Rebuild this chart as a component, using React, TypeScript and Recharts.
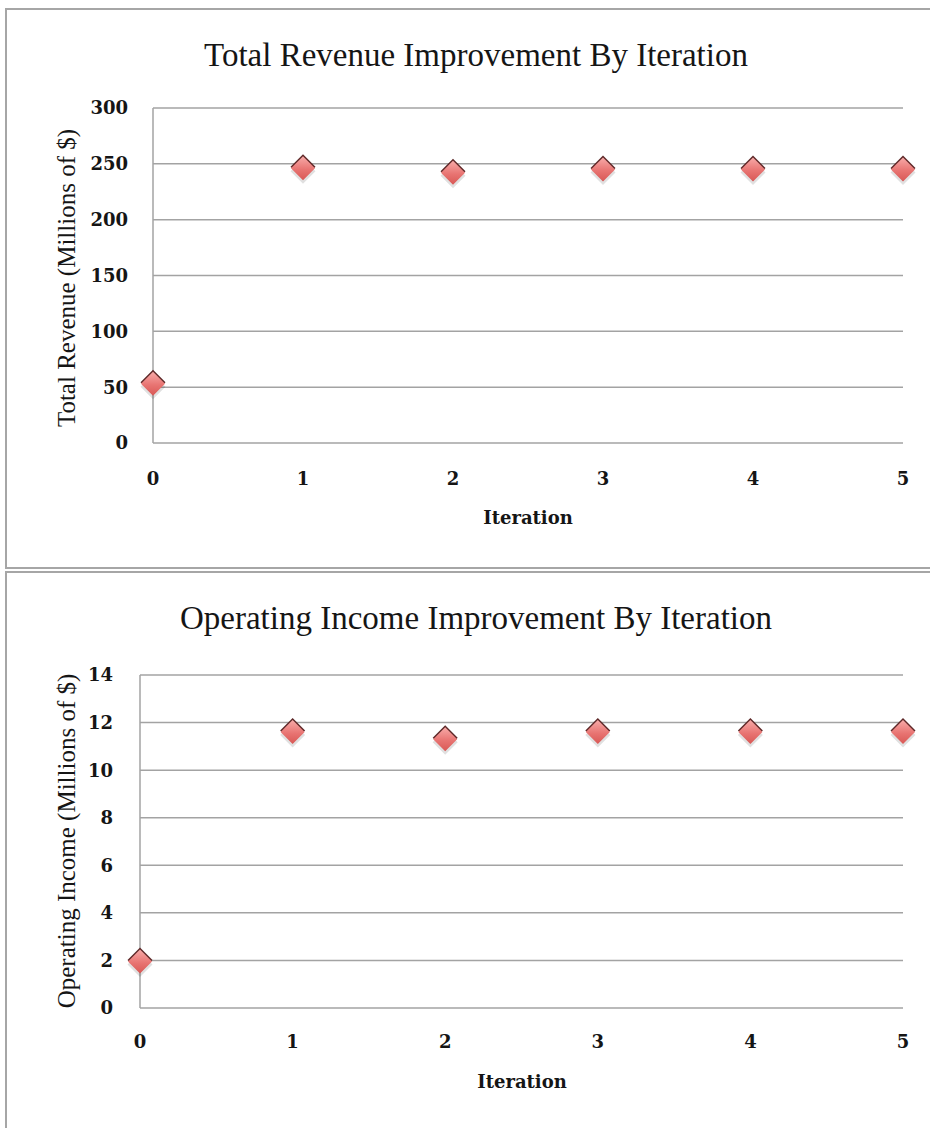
import React from 'react'
import { ScatterChart, Scatter, XAxis, YAxis, CartesianGrid } from 'recharts'

const iterations = [0, 1, 2, 3, 4, 5]
const revenue = [53, 246, 242, 245, 245, 245]
const operatingIncome = [1.95, 11.6, 11.3, 11.6, 11.6, 11.6]
const revenueTicks = [0, 50, 100, 150, 200, 250, 300]
const incomeTicks = [0, 2, 4, 6, 8, 10, 12, 14]

const GRID = '#a3a3a3'
const TEXT = '#151515'
const TICK_FONT = { fontSize: 18, fontWeight: 700, fontFamily: 'DejaVu Serif, serif', fill: TEXT }

const Diamond = (props: any) => {
  const { cx, cy, index } = props
  if (cx == null || cy == null) return null
  const r = 12.5
  const pts = (dx: number, dy: number, s: number) =>
    `${cx + dx},${cy + dy - s} ${cx + dx + s},${cy + dy} ${cx + dx},${cy + dy + s} ${cx + dx - s},${cy + dy}`
  const id = `dg-${cy.toFixed(0)}-${index}`
  return (
    <g>
      <defs>
        <linearGradient id={id} x1="0" y1="0" x2="0" y2="1">
          <stop offset="0%" stopColor="#f7aaa8" />
          <stop offset="55%" stopColor="#e87472" />
          <stop offset="100%" stopColor="#d95855" />
        </linearGradient>
      </defs>
      <polygon points={pts(0, 3, r)} fill="rgba(0,0,0,0.12)" />
      <polygon points={pts(0, -1.5, r)} fill="#5e2828" />
      <polygon points={pts(0, 0, r - 0.5)} fill={`url(#${id})`} />
    </g>
  )
}

const panelStyle: React.CSSProperties = {
  position: 'absolute',
  left: 5,
  width: 940,
  border: '2px solid #a6a6a6',
  boxSizing: 'border-box',
  background: '#fff',
}

const titleStyle: React.CSSProperties = {
  position: 'absolute',
  transform: 'translate(-50%, -50%)',
  whiteSpace: 'nowrap',
  fontFamily: 'Liberation Serif, serif',
  fontSize: 33,
  lineHeight: '33px',
  color: TEXT,
}

const yLabelStyle: React.CSSProperties = {
  position: 'absolute',
  transform: 'translate(-50%, -50%) rotate(-90deg)',
  whiteSpace: 'nowrap',
  fontFamily: 'Liberation Serif, serif',
  fontSize: 25,
  lineHeight: '25px',
  color: TEXT,
}

const xLabelStyle: React.CSSProperties = {
  position: 'absolute',
  transform: 'translate(-50%, -50%)',
  whiteSpace: 'nowrap',
  fontFamily: 'DejaVu Serif, serif',
  fontWeight: 700,
  fontSize: 18,
  lineHeight: '18px',
  color: TEXT,
}

const revenueData = iterations.map((x, i) => ({ x, y: revenue[i] }))
const incomeData = iterations.map((x, i) => ({ x, y: operatingIncome[i] }))

const App = () => {
  return (
    <div style={{ position: 'absolute', left: 0, top: 0, width: 930, height: 1128, background: '#fff', overflow: 'hidden' }}>
      <div style={{ ...panelStyle, top: 8, height: 561 }} />
      <div style={{ ...panelStyle, top: 571, height: 600 }} />

      <div style={{ position: 'absolute', left: 0, top: 0 }}>
        <ScatterChart width={930} height={566} margin={{ top: 108, right: 27, bottom: 0, left: 0 }}>
          <CartesianGrid vertical={false} stroke={GRID} strokeWidth={1.5} />
          <XAxis
            type="number"
            dataKey="x"
            domain={[0, 5]}
            ticks={iterations}
            height={123}
            axisLine={false}
            tickLine={false}
            tickSize={0}
            tickMargin={29}
            tick={TICK_FONT}
          />
          <YAxis
            type="number"
            dataKey="y"
            domain={[0, 300]}
            ticks={revenueTicks}
            width={153}
            axisLine={{ stroke: GRID, strokeWidth: 1.5 }}
            tickLine={false}
            tickSize={0}
            tickMargin={25}
            tick={TICK_FONT}
          />
          <Scatter data={revenueData} shape={<Diamond />} isAnimationActive={false} />
        </ScatterChart>
      </div>

      <div style={{ position: 'absolute', left: 0, top: 572 }}>
        <ScatterChart width={930} height={556} margin={{ top: 103, right: 27, bottom: 0, left: 0 }}>
          <CartesianGrid vertical={false} stroke={GRID} strokeWidth={1.5} />
          <XAxis
            type="number"
            dataKey="x"
            domain={[0, 5]}
            ticks={iterations}
            height={120}
            axisLine={false}
            tickLine={false}
            tickSize={0}
            tickMargin={27}
            tick={TICK_FONT}
          />
          <YAxis
            type="number"
            dataKey="y"
            domain={[0, 14]}
            ticks={incomeTicks}
            width={140}
            axisLine={{ stroke: GRID, strokeWidth: 1.5 }}
            tickLine={false}
            tickSize={0}
            tickMargin={27}
            tick={TICK_FONT}
          />
          <Scatter data={incomeData} shape={<Diamond />} isAnimationActive={false} />
        </ScatterChart>
      </div>

      <div style={{ ...titleStyle, left: 476, top: 55 }}>Total Revenue Improvement By Iteration</div>
      <div style={{ ...yLabelStyle, left: 66, top: 278 }}>Total Revenue (Millions of $)</div>
      <div style={{ ...xLabelStyle, left: 528, top: 518 }}>Iteration</div>

      <div style={{ ...titleStyle, left: 476, top: 618 }}>Operating Income Improvement By Iteration</div>
      <div style={{ ...yLabelStyle, left: 66, top: 841 }}>Operating Income (Millions of $)</div>
      <div style={{ ...xLabelStyle, left: 522, top: 1082 }}>Iteration</div>
    </div>
  )
}

export default App
